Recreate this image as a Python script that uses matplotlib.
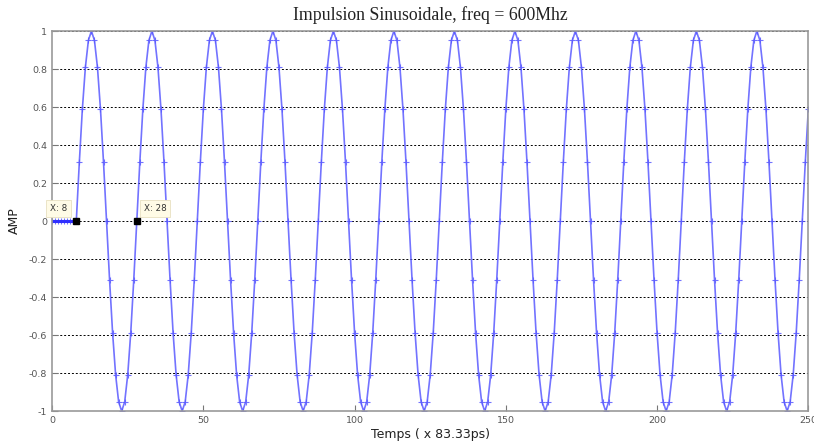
import numpy as np
import matplotlib
matplotlib.use('Agg')
import matplotlib.pyplot as plt

#-- signal: 8 samples of silence then a 600MHz sine (20 samples per period)
n_samples = 251
n_delay = 8
period_vals = [0.0, 0.309, 0.588, 0.809, 0.951, 1.0, 0.951, 0.809, 0.588, 0.309,
               0.0, -0.309, -0.588, -0.809, -0.951, -1.0, -0.951, -0.809, -0.588, -0.309]
n_periods = 13
tip_x = [8, 28]
tip_labels = ['X: 8', 'X: 28']

x = np.arange(n_samples)
y = np.concatenate([np.zeros(n_delay),
                    np.tile(period_vals, n_periods)[:n_samples - n_delay]])

fig = plt.figure(figsize=(8.14, 4.44), dpi=100)
ax = fig.add_axes([0.064, 0.074, 0.929, 0.856])

blue = '#5a5aff'
ax.plot(x, y, color=blue, lw=1.2, marker='+', ms=4, mew=0.8, alpha=0.85)
#-- highlighted leading segment
ax.plot(x[:n_delay + 1], y[:n_delay + 1], color='#3030ff', lw=2.2)

#-- data tips
for xt, lab, off in zip(tip_x, tip_labels, [(-19, 6), (5, 6)]):
    ax.plot(xt, y[xt], 's', color='black', ms=4.5, zorder=5)
    ax.annotate(lab, (xt, y[xt]), xytext=off, textcoords='offset points',
                fontsize=6.3, color='#333333', ha='left', va='bottom',
                bbox=dict(boxstyle='square,pad=0.45', fc='#fffbe6', ec='#e8e0c0', lw=0.6))

ax.set_xlim(0, 250)
ax.set_ylim(-1, 1)
ax.set_xticks([0, 50, 100, 150, 200, 250])
ax.set_yticks(np.round(np.arange(-1, 1.01, 0.2), 1))
ax.set_yticklabels(['-1', '-0.8', '-0.6', '-0.4', '-0.2', '0', '0.2', '0.4', '0.6', '0.8', '1'])
ax.yaxis.grid(True, linestyle=(0, (2, 2)), color='black', lw=0.7)
ax.tick_params(direction='in', length=4, labelsize=6.8, labelcolor='#555555', colors='#777777')
for s in ax.spines.values():
    s.set_color('#999999')
    s.set_linewidth(1.2)

ax.set_title('Impulsion Sinusoidale, freq = 600Mhz', fontsize=12.8,
             family='Liberation Serif', color='#222222', pad=8)
ax.set_xlabel('Temps ( x 83.33ps)', fontsize=9, color='#222222', labelpad=2)
ax.set_ylabel('AMP', fontsize=9, color='#222222', labelpad=6)

fig.savefig('out.png', dpi=100)
